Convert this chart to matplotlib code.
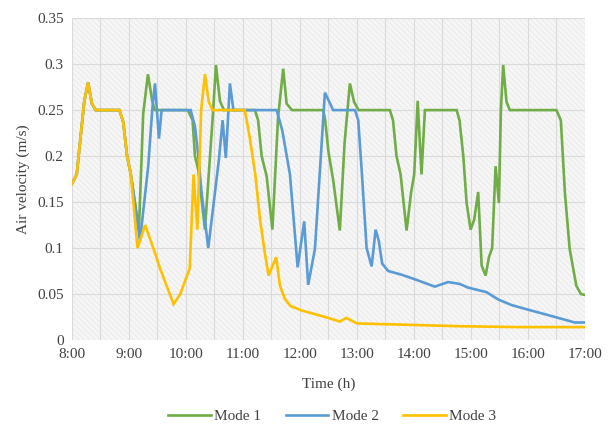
import numpy as np
import matplotlib
matplotlib.use("Agg")
import matplotlib.pyplot as plt
from matplotlib.patches import Rectangle
from matplotlib.ticker import FuncFormatter, MultipleLocator

plt.rcParams["font.family"] = ["Liberation Serif", "DejaVu Serif"]
plt.rcParams["hatch.linewidth"] = 0.5

# ── Data (minutes after 8:00, air velocity in m/s) ────────────────────────────

# common start of all three modes (modes 1 and 2 hidden under mode 3)
start_t = [0, 5, 10, 13, 17, 21, 25, 50, 54, 58, 62]
start_v = [0.17, 0.18, 0.23, 0.26, 0.28, 0.257, 0.25, 0.25, 0.237, 0.20, 0.18]

mode1_t = start_t + [70.5, 75, 80, 84.5, 87, 122, 127, 129.5, 133, 140, 148.7,
                     151.6, 155.8, 160, 192.6, 196, 199.7, 205, 211, 217, 222.4,
                     226, 231.6, 264.5, 266.5, 270, 275, 282, 287, 292.6, 297,
                     301.7, 334.7, 338, 341.7, 346, 352.3, 357, 360.3, 364, 368,
                     371.6, 405, 408, 412, 415.5, 419.7, 423.5, 427.7, 431.3,
                     435.5, 439, 442.4, 446, 449.5, 451.6, 454, 457.5, 461, 510,
                     514.7, 519, 524, 531, 535.8, 540]
mode1_v = start_v + [0.12, 0.246, 0.289, 0.26, 0.25, 0.25, 0.239, 0.2, 0.185, 0.12,
                     0.25, 0.299, 0.26, 0.25, 0.25, 0.239, 0.2, 0.178, 0.12, 0.242,
                     0.295, 0.257, 0.25, 0.25, 0.24, 0.205, 0.174, 0.119, 0.214,
                     0.279, 0.259, 0.25, 0.25, 0.239, 0.2, 0.18, 0.119, 0.16, 0.18,
                     0.26, 0.18, 0.25, 0.25, 0.239, 0.2, 0.149, 0.12, 0.131, 0.161,
                     0.081, 0.07, 0.09, 0.10, 0.189, 0.149, 0.25, 0.299, 0.259,
                     0.25, 0.25, 0.239, 0.16, 0.099, 0.059, 0.05, 0.049]

mode2_t = start_t + [71.6, 80.3, 84.5, 87.4, 91.6, 94.4, 125, 129.5, 133, 136.5,
                     143.5, 150.5, 154.7, 158.6, 162, 166.3, 170, 215.5, 221.4,
                     229.5, 237.6, 244.5, 248.7, 255.8, 266.3, 275, 298, 301.4,
                     305, 310.2, 315.5, 319.7, 323, 326.6, 333, 347, 361, 371.6,
                     382, 396, 408, 417, 436.5, 448.8, 462.8, 480, 498, 515.5,
                     529.5, 540]
mode2_v = start_v + [0.108, 0.189, 0.25, 0.279, 0.219, 0.25, 0.25, 0.232, 0.20,
                     0.16, 0.10, 0.16, 0.196, 0.239, 0.198, 0.279, 0.25, 0.25,
                     0.228, 0.18, 0.079, 0.129, 0.06, 0.099, 0.269, 0.25, 0.25,
                     0.239, 0.185, 0.10, 0.08, 0.12, 0.108, 0.083, 0.075, 0.071,
                     0.066, 0.062, 0.058, 0.063, 0.061, 0.057, 0.052, 0.044, 0.038,
                     0.033, 0.028, 0.023, 0.019, 0.019]

mode3_t = start_t + [69, 77, 87, 93, 107, 114, 124, 128, 132, 136, 140, 144, 148,
                     182, 187, 193, 198, 203, 207, 215, 219, 224, 230, 242, 256,
                     270, 282, 289, 300, 336, 407, 470, 540]
mode3_v = start_v + [0.10, 0.125, 0.096, 0.077, 0.039, 0.05, 0.078, 0.18, 0.12,
                     0.25, 0.289, 0.259, 0.25, 0.25, 0.221, 0.18, 0.131, 0.095,
                     0.07, 0.09, 0.059, 0.045, 0.037, 0.032, 0.028, 0.024, 0.020,
                     0.024, 0.018, 0.017, 0.015, 0.014, 0.014]

hour_ticks = list(range(8, 18))
hour_labels = [f"{h}:00" for h in hour_ticks]

series = [
    ("Mode 1", mode1_t, mode1_v, "#70AD47"),
    ("Mode 2", mode2_t, mode2_v, "#5B9BD5"),
    ("Mode 3", mode3_t, mode3_v, "#FFC000"),
]

# ── Figure ────────────────────────────────────────────────────────────────────

fig = plt.figure(figsize=(6.15, 4.32), dpi=100)
ax = fig.add_axes([0.117, 0.213, 0.834, 0.745])

# hatched plot-area background
ax.set_facecolor("#F6F6F6")
ax.add_patch(Rectangle((0, 0), 1, 1, transform=ax.transAxes, facecolor="none",
                       edgecolor="#E6E6E6", hatch="\\\\\\\\\\\\", lw=0, zorder=0))

for name, t, v, col in series:
    ax.plot(8 + np.asarray(t) / 60.0, v, color=col, lw=1.9, label=name, zorder=3,
            solid_joinstyle="miter")

ax.set_xlim(8, 17)
ax.set_ylim(0, 0.35)
ax.set_xticks(hour_ticks)
ax.set_xticklabels(hour_labels)
ax.xaxis.set_minor_locator(MultipleLocator(0.5))
ax.yaxis.set_major_locator(MultipleLocator(0.05))
ax.yaxis.set_major_formatter(FuncFormatter(lambda y, _: f"{y:.2f}".rstrip("0").rstrip(".") if y else "0"))

ax.grid(which="both", color="#DADADA", lw=0.8, zorder=1)
ax.set_axisbelow(True)
ax.tick_params(which="both", length=0, labelsize=11, colors="#404040", pad=6)
for s in ax.spines.values():
    s.set_visible(False)

ax.set_xlabel("Time (h)", fontsize=11, color="#404040", labelpad=12)
ax.set_ylabel("Air velocity (m/s)", fontsize=11, color="#404040", labelpad=5)

leg = fig.legend(loc="center", bbox_to_anchor=(0.54, 0.037), ncol=3, frameon=False,
                 fontsize=11, handlelength=2.8, handletextpad=0.2, columnspacing=1.6)
for txt in leg.get_texts():
    txt.set_color("#404040")

fig.savefig("out.png", dpi=100)
